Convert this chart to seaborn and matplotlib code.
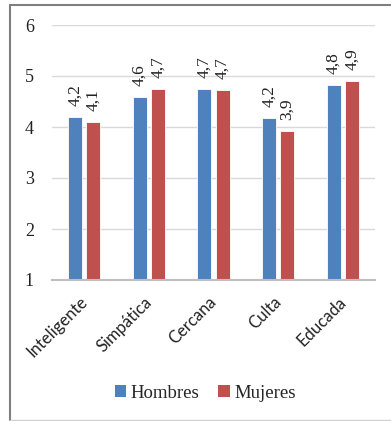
import matplotlib
matplotlib.use("Agg")
import matplotlib.pyplot as plt
import matplotlib.transforms as mtransforms
import seaborn as sns
import pandas as pd
from matplotlib.patches import Patch
from matplotlib.lines import Line2D

# Valoración media por atributo
categorias = ["Inteligente", "Simpática", "Cercana", "Culta", "Educada"]
hombres = [4.19, 4.58, 4.74, 4.18, 4.82]
mujeres = [4.10, 4.74, 4.73, 3.92, 4.90]
series = ["Hombres", "Mujeres"]
colores = ["#4F81BD", "#C0504D"]
yticks = [1, 2, 3, 4, 5, 6]

df = pd.DataFrame({
    "categoria": categorias * 2,
    "serie": [series[0]] * len(categorias) + [series[1]] * len(categorias),
    "valor": hombres + mujeres,
})

sns.set_theme(style="white")
plt.rcParams["font.family"] = ["Liberation Serif", "DejaVu Serif"]
sans = ["Lato", "DejaVu Sans"]

fig = plt.figure(figsize=(3.91, 4.21), dpi=100)
W, H = 391, 421
ax = fig.add_axes([52 / W, 1 - 280 / H, (375 - 52) / W, (280 - 25) / H])

sns.barplot(data=df, x="categoria", y="valor", hue="serie", hue_order=series,
            palette=colores, order=categorias, width=0.567, gap=0.235,
            edgecolor="white", linewidth=0.6, saturation=1, ax=ax, legend=False)

ax.set_ylim(1, 6)
ax.set_yticks(yticks)
ax.set_yticklabels([str(t) for t in yticks], fontsize=13, color="#222222")
ax.yaxis.grid(True, color="#D9D9D9", linewidth=1.0)
ax.set_axisbelow(True)
ax.tick_params(axis="y", length=0, pad=13)
ax.tick_params(axis="x", length=0, pad=10)
ax.set_xlabel("")
ax.set_ylabel("")
for s in ["left", "top", "right"]:
    ax.spines[s].set_visible(False)
ax.spines["bottom"].set_color("#BFBFBF")
ax.spines["bottom"].set_linewidth(1.5)

ax.set_xticks(range(len(categorias)))
ax.set_xticklabels(categorias, rotation=45, ha="right", rotation_mode="anchor",
                   fontfamily=sans, fontsize=12, color="#222222")
shift = mtransforms.ScaledTranslation(-5 / 100, 0, fig.dpi_scale_trans)
for lbl in ax.get_xticklabels():
    lbl.set_transform(lbl.get_transform() + shift)

for cont in ax.containers:
    vals = cont.datavalues
    ax.bar_label(cont, labels=[f"{v:.1f}".replace(".", ",") for v in vals],
                 rotation=90, padding=8, fontsize=12.5, color="#222222")

handles = [Patch(facecolor=c, edgecolor="none") for c in colores]
fig.legend(handles, series, loc="center", bbox_to_anchor=(0.525, 1 - 393 / H),
           ncol=2, frameon=False, prop={"size": 13.5},
           handlelength=0.6, handleheight=0.6, handletextpad=0.25,
           columnspacing=1.0)

# Marco exterior del gráfico
fig.add_artist(Line2D([9.5 / W, 9.5 / W], [1 - 419.5 / H, 1 - 4.5 / H],
                      transform=fig.transFigure, color="#7F7F7F", lw=1.5))
fig.add_artist(Line2D([9.5 / W, 1.0], [1 - 4.5 / H, 1 - 4.5 / H],
                      transform=fig.transFigure, color="#7F7F7F", lw=1.5))
fig.add_artist(Line2D([9.5 / W, 1.0], [1 - 419.5 / H, 1 - 419.5 / H],
                      transform=fig.transFigure, color="#D0D0D0", lw=1.0))

fig.savefig("out.png", dpi=100)
